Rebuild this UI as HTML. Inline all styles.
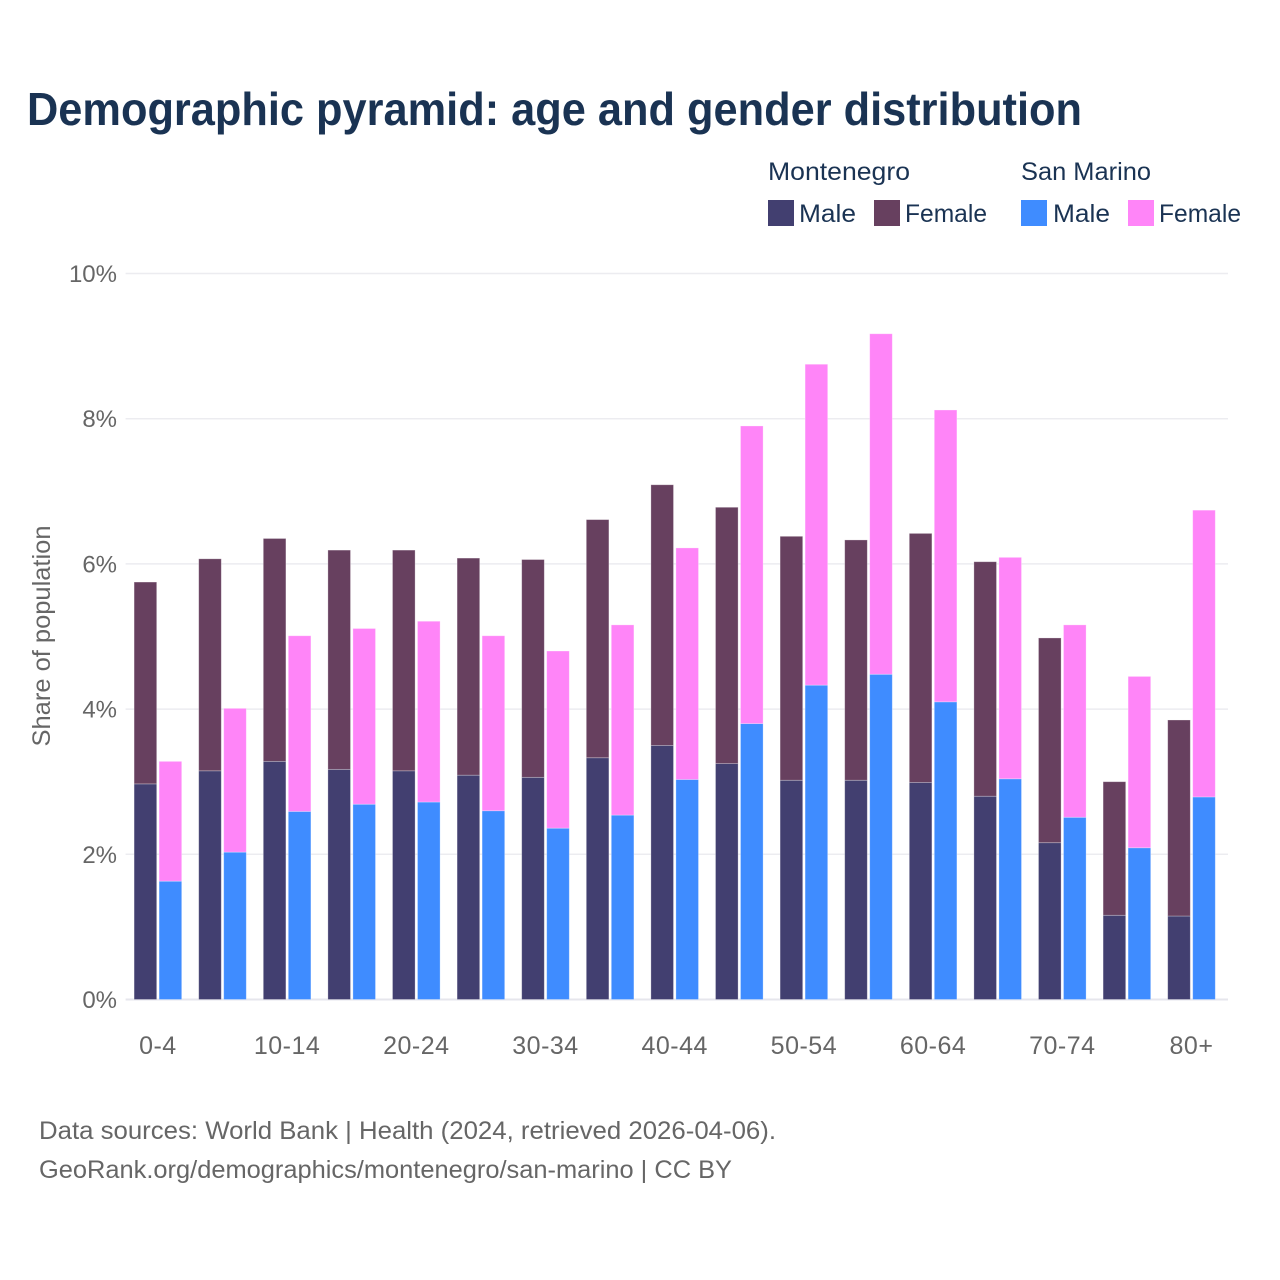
<!DOCTYPE html>
<html lang="en">
<head>
<meta charset="utf-8">
<title>Demographic pyramid</title>
<style>
html,body{margin:0;padding:0;background:#fff;width:1280px;height:1280px;overflow:hidden}
svg{display:block;font-family:"Liberation Sans",sans-serif}
</style>
</head>
<body>
<svg id="chart" width="1280" height="1280" viewBox="0 0 1280 1280">
  <rect width="1280" height="1280" fill="#fff"/>
  <text x="27" y="125" font-size="46" font-weight="700" fill="#1a3353" textLength="1055" lengthAdjust="spacingAndGlyphs">Demographic pyramid: age and gender distribution</text>

  <g font-size="25" fill="#1a3353">
    <text x="768" y="180" textLength="142" lengthAdjust="spacingAndGlyphs">Montenegro</text>
    <text x="1021" y="180" textLength="130" lengthAdjust="spacingAndGlyphs">San Marino</text>
    <rect x="768" y="200" width="26" height="26" fill="#423f70"/>
    <text x="799" y="222" textLength="57" lengthAdjust="spacingAndGlyphs">Male</text>
    <rect x="874" y="200" width="26" height="26" fill="#67405f"/>
    <text x="905" y="222" textLength="82" lengthAdjust="spacingAndGlyphs">Female</text>
    <rect x="1021" y="200" width="26" height="26" fill="#3f8cff"/>
    <text x="1053" y="222" textLength="57" lengthAdjust="spacingAndGlyphs">Male</text>
    <rect x="1128" y="200" width="26" height="26" fill="#ff85f8"/>
    <text x="1159" y="222" textLength="82" lengthAdjust="spacingAndGlyphs">Female</text>
  </g>

  <g id="grid"></g>
  <g id="yticks"></g>
  <g id="bars"></g>
  <g id="xticks"></g>

  <text transform="translate(50,636) rotate(-90)" text-anchor="middle" font-size="25" fill="#666" textLength="221" lengthAdjust="spacingAndGlyphs">Share of population</text>

  <text x="39" y="1139" font-size="25" fill="#666" textLength="737" lengthAdjust="spacingAndGlyphs">Data sources: World Bank | Health (2024, retrieved 2026-04-06).</text>
  <text x="39" y="1178" font-size="25" fill="#666" textLength="693" lengthAdjust="spacingAndGlyphs">GeoRank.org/demographics/montenegro/san-marino | CC BY</text>
</svg>
<script>
const categories = ["0-4","5-9","10-14","15-19","20-24","25-29","30-34","35-39","40-44","45-49","50-54","55-59","60-64","65-69","70-74","75-79","80+"];
const xTickLabels = ["0-4","10-14","20-24","30-34","40-44","50-54","60-64","70-74","80+"];
const yTickValues = [0,2,4,6,8,10];
const montenegroMale = [2.97,3.15,3.28,3.17,3.15,3.09,3.06,3.33,3.50,3.25,3.02,3.02,2.99,2.80,2.16,1.16,1.15];
const montenegroFemale = [2.78,2.92,3.07,3.02,3.04,2.99,3.00,3.28,3.59,3.53,3.36,3.31,3.43,3.23,2.82,1.84,2.70];
const sanMarinoMale = [1.63,2.03,2.59,2.69,2.72,2.60,2.36,2.54,3.03,3.80,4.33,4.48,4.10,3.04,2.51,2.09,2.79];
const sanMarinoFemale = [1.65,1.98,2.42,2.42,2.49,2.41,2.44,2.62,3.19,4.10,4.42,4.69,4.02,3.05,2.65,2.36,3.95];

const NS = "http://www.w3.org/2000/svg";
const plot = {left:125.6, right:1228, y0:999.5, y10:273.5, step:64.6};
const yScale = v => plot.y0 - (v / 10) * (plot.y0 - plot.y10);
const xScale = i => plot.left + plot.step * (i + 0.5);
const colors = {mMale:"#423f70", mFemale:"#67405f", sMale:"#3f8cff", sFemale:"#ff85f8"};
const barW = 22.6, gap = 1.2;

function make(tag, attrs, parent) {
  const el = document.createElementNS(NS, tag);
  for (const k in attrs) el.setAttribute(k, attrs[k]);
  parent.appendChild(el);
  return el;
}

const grid = document.getElementById("grid");
const yticks = document.getElementById("yticks");
yTickValues.forEach(v => {
  const line = make("line", {x1:plot.left, x2:plot.right, y1:yScale(v), y2:yScale(v), stroke:v === 0 ? "#e6e6ec" : "#ececf0", "stroke-width":v === 0 ? 2 : 1.5}, grid);
  
  
  const t = make("text", {x:117, y:yScale(v) + 8.5, "text-anchor":"end", "font-size":24, fill:"#666"}, yticks);
  t.textContent = v + "%";
  
  
});

const bars = document.getElementById("bars");
function drawBar(x, base, value, color, name) {
  const top = yScale(base + value), bottom = yScale(base);
  const r = make("rect", {x:x, y:top, width:barW, height:bottom - top, fill:color, stroke:"#fff", "stroke-opacity":0.35, "stroke-width":0.8}, bars);
  
  
}
categories.forEach((c, i) => {
  const cx = xScale(i);
  const mx = cx - barW - gap, sx = cx + gap;
  drawBar(mx, 0, montenegroMale[i], colors.mMale, 'bar-montenegro-male');
  drawBar(mx, montenegroMale[i], montenegroFemale[i], colors.mFemale, 'bar-montenegro-female');
  drawBar(sx, 0, sanMarinoMale[i], colors.sMale, 'bar-san-marino-male');
  drawBar(sx, sanMarinoMale[i], sanMarinoFemale[i], colors.sFemale, 'bar-san-marino-female');
});

const xticks = document.getElementById("xticks");
xTickLabels.forEach(lbl => {
  const i = categories.indexOf(lbl);
  const t = make("text", {x:xScale(i), y:1054, "text-anchor":"middle", "font-size":25, "letter-spacing":0.5, fill:"#666"}, xticks);
  t.textContent = lbl;
  
  
});
</script>
</body>
</html>
